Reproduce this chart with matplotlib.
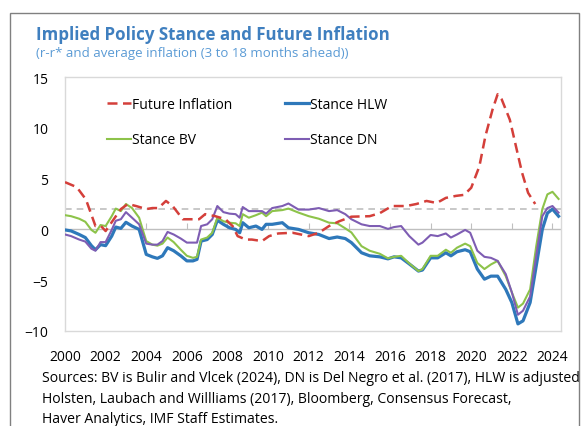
import matplotlib
matplotlib.use("Agg")
import matplotlib.pyplot as plt
from matplotlib.lines import Line2D
from matplotlib.patches import Rectangle

plt.rcParams["font.family"] = ["Open Sans", "DejaVu Sans"]

# Future inflation (red dashed)
infl_x = [2000.0, 2000.46, 2000.6, 2001.03, 2001.5, 2001.77, 2002.0, 2002.4, 2002.75, 2003.1,
          2003.5, 2004.0, 2004.3, 2004.6, 2004.97, 2005.3, 2005.8, 2006.1, 2006.6, 2006.9,
          2007.4, 2007.9, 2008.25, 2008.5, 2008.9, 2009.2, 2009.7, 2010.05, 2010.5, 2011.2,
          2012.0, 2012.5, 2013.0, 2013.5, 2014.1, 2015.0, 2015.5, 2016.1, 2016.8, 2017.3,
          2017.8, 2018.3, 2018.75, 2019.25, 2019.65, 2020.0, 2020.4, 2020.7, 2021.05, 2021.3,
          2021.5, 2021.9, 2022.2, 2022.5, 2022.8, 2023.15]
infl_y = [4.65, 4.26, 4.1, 2.95, 0.33, 0.33, -0.16, 1.0, 2.0, 2.5,
          2.3, 2.0, 2.1, 2.1, 2.8, 2.3, 1.0, 1.0, 1.0, 1.5,
          1.3, 1.0, 0.33, -0.66, -1.0, -1.0, -1.15, -0.66, -0.4, -0.33,
          -0.66, -0.33, 0.33, 0.8, 1.25, 1.3, 1.6, 2.3, 2.3, 2.5,
          2.8, 2.6, 3.1, 3.3, 3.4, 4.1, 6.2, 9.2, 11.8, 13.3,
          12.8, 10.8, 8.2, 5.6, 3.6, 2.5]

# Policy stance estimates share one date grid
stance_x = [2000.0, 2000.3, 2000.7, 2001.0, 2001.3, 2001.5, 2001.75, 2002.0, 2002.3, 2002.5,
            2002.75, 2003.0, 2003.3, 2003.65, 2004.0, 2004.3, 2004.55, 2004.8, 2005.05, 2005.35,
            2005.7, 2006.0, 2006.3, 2006.5, 2006.7, 2007.0, 2007.25, 2007.5, 2007.8, 2008.1,
            2008.4, 2008.6, 2008.75, 2009.05, 2009.4, 2009.7, 2009.9, 2010.2, 2010.7, 2011.0,
            2011.5, 2012.0, 2012.5, 2013.0, 2013.4, 2013.8, 2014.1, 2014.6, 2015.0, 2015.5,
            2015.9, 2016.2, 2016.55, 2016.95, 2017.4, 2017.6, 2018.0, 2018.35, 2018.75, 2019.0,
            2019.3, 2019.7, 2019.95, 2020.3, 2020.65, 2020.97, 2021.3, 2021.7, 2022.0, 2022.3,
            2022.55, 2022.9, 2023.2, 2023.5, 2023.75, 2024.0, 2024.3]
hlw = [-0.05, -0.15, -0.5, -0.8, -1.6, -2.0, -1.5, -1.6, -0.66, 0.23,
       0.1, 0.7, 0.33, 0.0, -2.46, -2.7, -2.85, -2.6, -1.8, -2.1,
       -2.6, -3.1, -3.1, -2.95, -1.15, -1.0, -0.5, 0.9, 0.5, 0.16,
       0.0, -0.33, 0.66, 0.16, 0.33, 0.0, 0.5, 0.5, 0.66, 0.16,
       0.0, -0.33, -0.5, -0.9, -0.75, -0.9, -1.3, -2.3, -2.6, -2.7,
       -2.9, -2.7, -2.8, -3.4, -4.1, -4.0, -2.8, -2.8, -2.3, -2.6,
       -2.2, -2.0, -2.2, -3.9, -4.9, -4.6, -4.6, -5.9, -7.2, -9.3,
       -9.0, -7.2, -3.6, 0.0, 1.6, 2.0, 1.3]
bv = [1.4, 1.3, 1.05, 0.75, -0.05, -0.33, 0.43, 0.33, 1.3, 2.05,
      1.8, 2.5, 2.1, 1.15, -1.15, -1.5, -1.6, -1.4, -0.8, -1.25,
      -2.0, -2.6, -2.8, -2.7, -1.0, -0.8, -0.33, 1.15, 0.8, 0.66,
      0.6, 0.33, 1.5, 1.15, 1.4, 1.65, 1.3, 1.8, 1.9, 2.05,
      1.65, 1.3, 1.05, 0.66, 0.6, 0.1, -0.3, -1.65, -2.1, -2.4,
      -2.85, -2.7, -2.6, -3.35, -4.1, -3.9, -2.6, -2.6, -2.0, -2.3,
      -1.8, -1.4, -1.65, -3.3, -3.9, -3.45, -3.1, -4.6, -6.2, -7.7,
      -7.3, -5.9, -1.65, 2.0, 3.45, 3.7, 3.0]
dn = [-0.5, -0.66, -1.0, -1.2, -1.9, -2.1, -1.25, -1.25, -0.05, 0.85,
      1.0, 1.7, 1.15, 0.5, -1.4, -1.5, -1.5, -1.15, -0.25, -0.5,
      -0.9, -1.3, -1.3, -1.3, 0.33, 0.5, 1.0, 2.3, 1.7, 1.55,
      1.5, 1.15, 2.2, 1.8, 1.8, 1.8, 1.55, 2.1, 2.3, 2.55,
      1.95, 1.95, 2.1, 1.8, 1.9, 1.5, 1.0, 0.5, 0.33, 0.33,
      0.05, 0.23, 0.33, -0.66, -1.5, -1.3, -0.55, -0.66, -0.4, -0.8,
      -0.5, -0.05, -0.33, -2.1, -2.7, -2.8, -3.1, -4.4, -6.2, -8.4,
      -8.0, -6.6, -2.6, 1.3, 2.1, 2.3, 1.65]

year_ticks = list(range(2000, 2025, 2))
y_ticks = [-10, -5, 0, 5, 10, 15]

title = "Implied Policy Stance and Future Inflation"
subtitle = "(r-r* and average inflation (3 to 18 months ahead))"
sources = ["Sources: BV is Bulir and Vlcek (2024), DN is Del Negro et al. (2017), HLW is adjusted",
           "Holsten, Laubach and Willliams (2017), Bloomberg, Consensus Forecast,",
           "Haver Analytics, IMF Staff Estimates."]

RED = "#D43F3A"
BLUE = "#2E78BA"
GREEN = "#8DC34A"
PURPLE = "#7E5DB3"

fig = plt.figure(figsize=(5.81, 4.27), dpi=100)
ax = fig.add_axes([65 / 581, 1 - 332 / 427, 496 / 581, 254 / 427])

# outer frame of the figure
fig.patches.append(Rectangle((10 / 581, -0.1), 569 / 581, 1.1 - 14 / 427,
                             transform=fig.transFigure, fill=False,
                             edgecolor="#808080", linewidth=1.0))

ax.axhline(0, color="#BFBFBF", linewidth=1.0, zorder=1)
ax.axhline(2, color="#BFBFBF", linewidth=1.2, linestyle=(0, (4, 3)), zorder=1)

ax.plot(stance_x, hlw, color=BLUE, linewidth=2.3, zorder=3)
ax.plot(stance_x, bv, color=GREEN, linewidth=1.5, zorder=4)
ax.plot(stance_x, dn, color=PURPLE, linewidth=1.5, zorder=5)
ax.plot(infl_x, infl_y, color=RED, linewidth=1.8, dashes=(4, 2.2), zorder=6)

ax.set_xlim(2000, 2024.42)
ax.set_ylim(-10, 15)
ax.set_xticks(year_ticks)
ax.set_xticklabels([str(y) for y in year_ticks])
ax.set_yticks(y_ticks)
ax.tick_params(axis="both", length=0, labelsize=10, colors="black")
ax.tick_params(axis="x", pad=13)
ax.tick_params(axis="y", pad=12)
for sp in ax.spines.values():
    sp.set_color("#D9D9D9")
    sp.set_linewidth(1.0)

# small tick marks sitting on the zero line
zero_axis = ax.secondary_xaxis(0.4)
zero_axis.set_xticks(year_ticks)
zero_axis.tick_params(direction="in", length=4, color="#BFBFBF", labelbottom=False)
zero_axis.spines["bottom"].set_visible(False)

handles = [
    Line2D([], [], color=RED, linewidth=1.8, dashes=(4, 2.2)),
    Line2D([], [], color=GREEN, linewidth=1.5),
    Line2D([], [], color=BLUE, linewidth=2.3),
    Line2D([], [], color=PURPLE, linewidth=1.5),
]
labels = ["Future Inflation", "Stance BV", "Stance HLW", "Stance DN"]
ax.legend(handles, labels, ncol=2, frameon=False, loc="upper left",
          bbox_to_anchor=(0.071, 0.95), borderpad=0, fontsize=10,
          handlelength=1.7, handletextpad=0.1, labelspacing=1.5,
          columnspacing=3.8)

fig.text(36 / 581, 1 - 35 / 427, title, fontsize=12.2, fontweight="bold",
         color="#3F7FBF", va="center", ha="left")
fig.text(36 / 581, 1 - 54 / 427, subtitle, fontsize=9.5,
         color="#5B9BD5", va="center", ha="left")
for i, line in enumerate(sources):
    fig.text(42 / 581, 1 - (379 + 20.5 * i) / 427, line, fontsize=10.1,
             color="black", va="center", ha="left")

fig.savefig("out.png", dpi=100)
